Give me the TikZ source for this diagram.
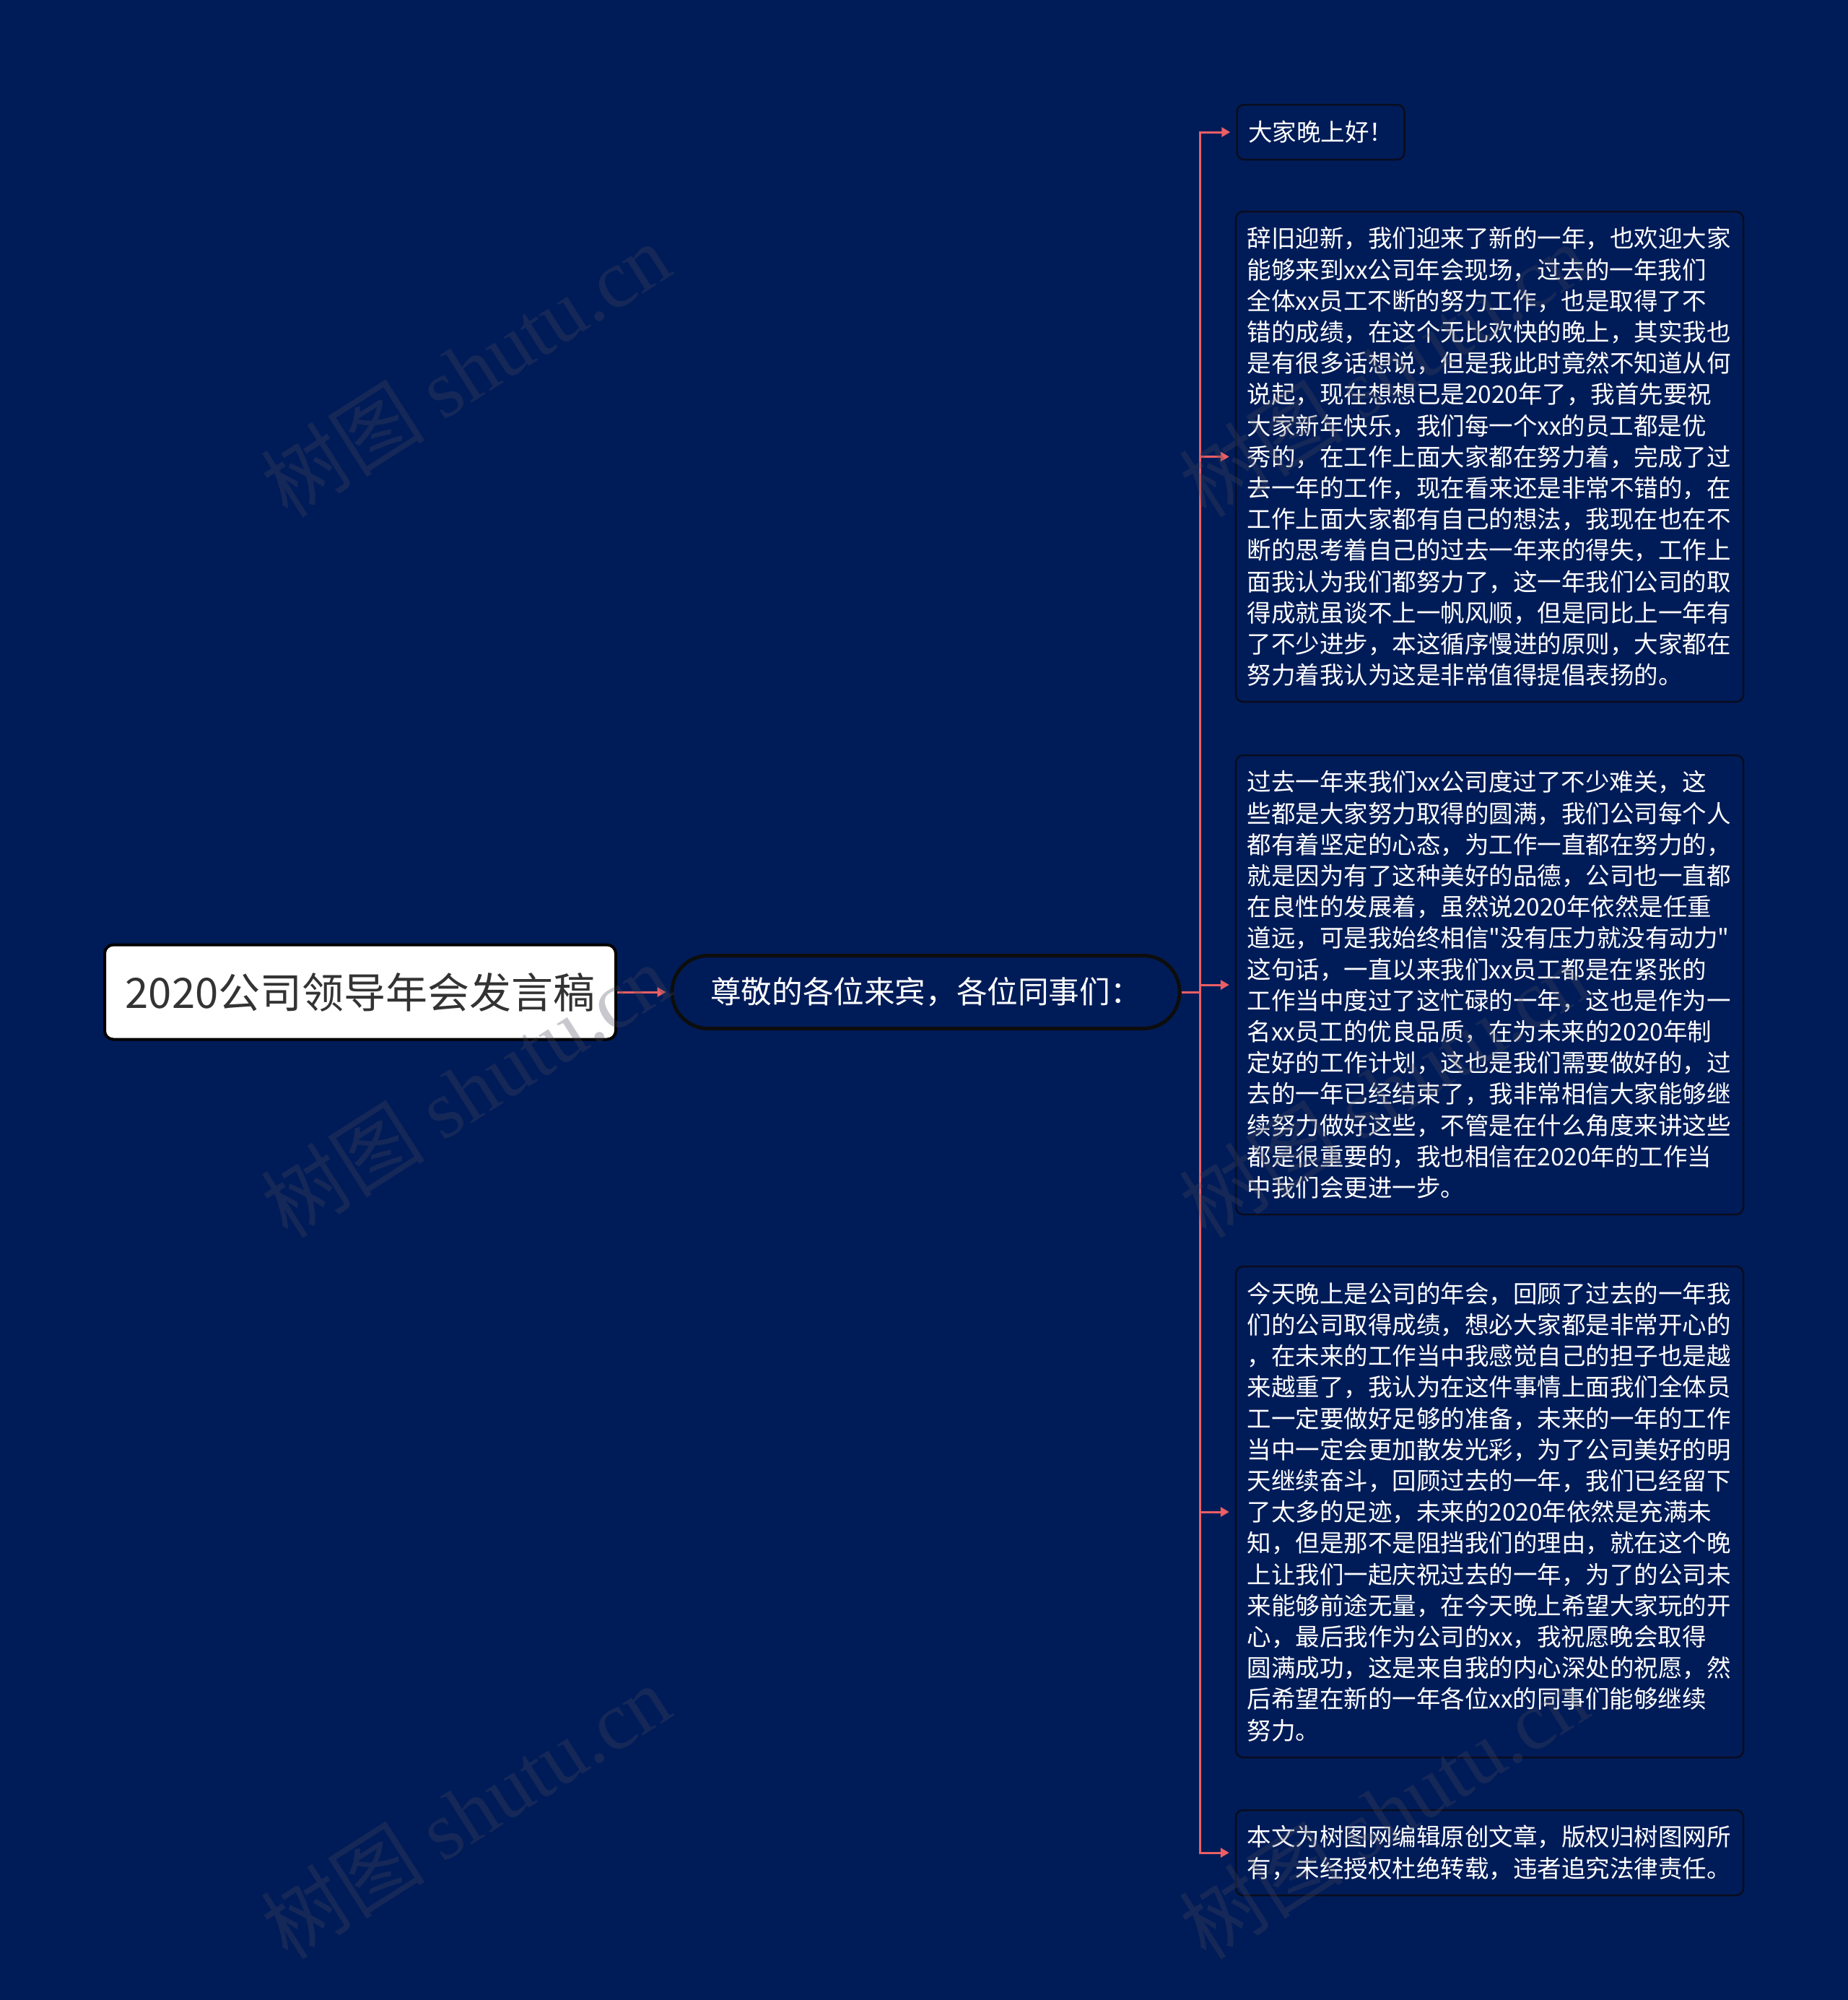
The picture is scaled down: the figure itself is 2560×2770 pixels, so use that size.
\documentclass[tikz,border=0pt]{standalone}
\usepackage{fontspec}
\setmainfont{Noto Sans CJK SC}
\newfontfamily\wmlatin{Liberation Serif}
\font\qfont="Noto Sans CJK SC" at 16.75pt
\newcommand{\sq}{{\qfont\char34}}
\usetikzlibrary{arrows.meta}
\definecolor{bg}{RGB}{0,28,88}
\definecolor{lnk}{RGB}{235,95,100}
\definecolor{txtdark}{RGB}{51,51,51}
\definecolor{bord}{RGB}{10,12,30}
\definecolor{wm}{RGB}{70,70,90}
\begin{document}
\begin{tikzpicture}[x=0.5pt,y=-0.5pt,
  rootbox/.style={draw=black, line width=2pt, fill=white, rounded corners=6pt,
    minimum width=354pt, minimum height=65.5pt, inner sep=0pt, text=txtdark,
    font=\fontsize{29pt}{34pt}\selectfont},
  midbox/.style={draw=black!95, line width=2.5pt, fill=bg, rounded corners=25pt,
    minimum width=351.5pt, minimum height=50.5pt, inner sep=0pt, text=white,
    font=\fontsize{21.3pt}{25pt}\selectfont},
  leaf/.style={draw=bord, line width=1.25pt, fill=bg, rounded corners=5pt,
    text=white, align=left, font=\fontsize{16.75pt}{21.6pt}\selectfont,
    inner xsep=7.75pt, inner ysep=0pt},
  wideleaf/.style={leaf, text width=336pt},
  plainline/.style={draw=lnk, line width=1.5pt},
  conn/.style={draw=lnk, line width=1.5pt, -{Triangle[length=6pt,width=6.5pt]}, shorten >=4pt},
  wmark/.style={text=wm, opacity=0.3, rotate=32.5, inner sep=0pt,
    font=\fontsize{57pt}{60pt}\selectfont}]
\fill[bg] (0,0) rectangle (2560,2770);

\node[rootbox] (R) at (499,1374) {2020公司领导年会发言稿};
\node[midbox] (B) at (1282.5,1374) {尊敬的各位来宾，各位同事们：};

\node[leaf, minimum height=38pt] (L1) at (1829.5,183) {大家晚上好！};
\node[wideleaf, minimum height=339.5pt] (L2) at (2063.5,632.5) {辞旧迎新，我们迎来了新的一年，也欢迎大家\\
能够来到xx公司年会现场，过去的一年我们\\
全体xx员工不断的努力工作，也是取得了不\\
错的成绩，在这个无比欢快的晚上，其实我也\\
是有很多话想说，但是我此时竟然不知道从何\\
说起，现在想想已是2020年了，我首先要祝\\
大家新年快乐，我们每一个xx的员工都是优\\
秀的，在工作上面大家都在努力着，完成了过\\
去一年的工作，现在看来还是非常不错的，在\\
工作上面大家都有自己的想法，我现在也在不\\
断的思考着自己的过去一年来的得失，工作上\\
面我认为我们都努力了，这一年我们公司的取\\
得成就虽谈不上一帆风顺，但是同比上一年有\\
了不少进步，本这循序慢进的原则，大家都在\\
努力着我认为这是非常值得提倡表扬的。};
\node[wideleaf, minimum height=318pt] (L3) at (2063.5,1364) {过去一年来我们xx公司度过了不少难关，这\\
些都是大家努力取得的圆满，我们公司每个人\\
都有着坚定的心态，为工作一直都在努力的，\\
就是因为有了这种美好的品德，公司也一直都\\
在良性的发展着，虽然说2020年依然是任重\\
道远，可是我始终相信\sq 没有压力就没有动力\sq\\
这句话，一直以来我们xx员工都是在紧张的\\
工作当中度过了这忙碌的一年，这也是作为一\\
名xx员工的优良品质，在为未来的2020年制\\
定好的工作计划，这也是我们需要做好的，过\\
去的一年已经结束了，我非常相信大家能够继\\
续努力做好这些，不管是在什么角度来讲这些\\
都是很重要的，我也相信在2020年的工作当\\
中我们会更进一步。};
\node[wideleaf, minimum height=340pt] (L4) at (2063.5,2094) {今天晚上是公司的年会，回顾了过去的一年我\\
们的公司取得成绩，想必大家都是非常开心的\\
，在未来的工作当中我感觉自己的担子也是越\\
来越重了，我认为在这件事情上面我们全体员\\
工一定要做好足够的准备，未来的一年的工作\\
当中一定会更加散发光彩，为了公司美好的明\\
天继续奋斗，回顾过去的一年，我们已经留下\\
了太多的足迹，未来的2020年依然是充满未\\
知，但是那不是阻挡我们的理由，就在这个晚\\
上让我们一起庆祝过去的一年，为了的公司未\\
来能够前途无量，在今天晚上希望大家玩的开\\
心，最后我作为公司的xx，我祝愿晚会取得\\
圆满成功，这是来自我的内心深处的祝愿，然\\
后希望在新的一年各位xx的同事们能够继续\\
努力。};
\node[wideleaf, minimum height=59pt] (L5) at (2063.5,2566) {本文为树图网编辑原创文章，版权归树图网所\\
有，未经授权杜绝转载，违者追究法律责任。};

\coordinate (J) at (1662,1374);
\draw[conn, shorten >=3pt] (R.east) -- (B.west);
\draw[plainline] (B.east) -- (J);
\draw[conn] (J) |- (L1.west);
\draw[conn] (J) |- (L2.west);
\draw[conn] (J) |- (L3.west);
\draw[conn] (J) |- (L4.west);
\draw[conn] (J) |- (L5.west);

\node[wmark] (W1) at (645,512) {树图 {\wmlatin shutu.cn}};
\node[wmark] (W2) at (645,1510) {树图 {\wmlatin shutu.cn}};
\node[wmark] (W3) at (645,2509) {树图 {\wmlatin shutu.cn}};
\node[wmark] (W4) at (1917,512) {树图 {\wmlatin shutu.cn}};
\node[wmark] (W5) at (1917,1510) {树图 {\wmlatin shutu.cn}};
\node[wmark] (W6) at (1917,2509) {树图 {\wmlatin shutu.cn}};
\end{tikzpicture}
\end{document}
